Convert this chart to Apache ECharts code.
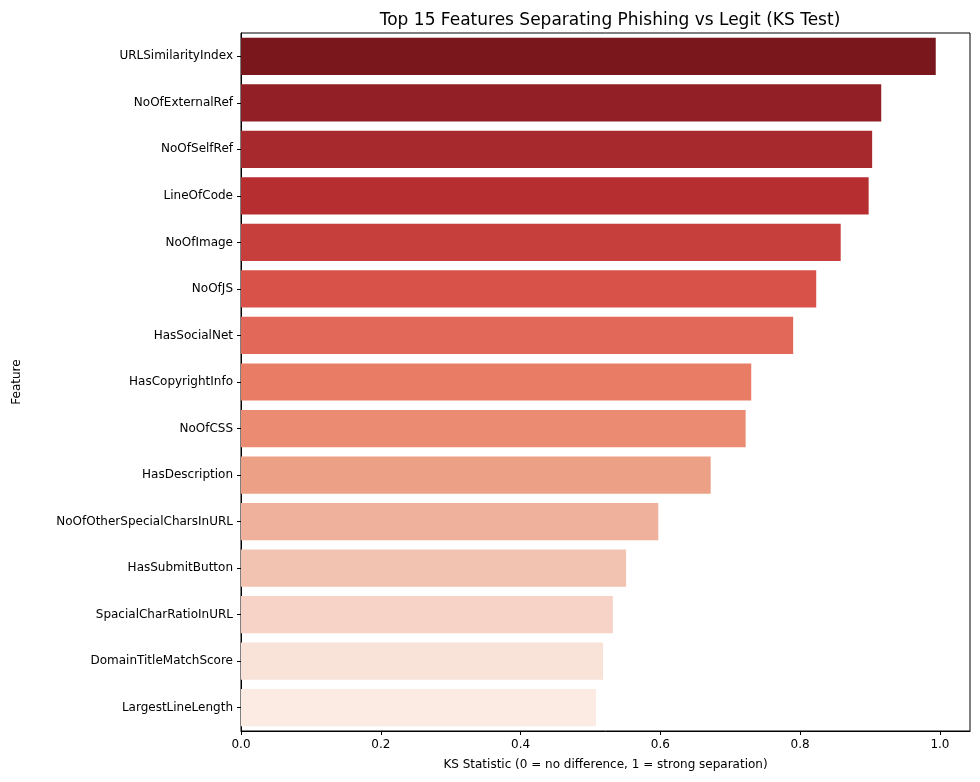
<!DOCTYPE html>
<html><head><meta charset="utf-8">
<script src="https://cdn.jsdelivr.net/npm/echarts@6/dist/echarts.min.js"></script>
<style>html,body{margin:0;padding:0;background:#fff}#c{width:980px;height:782px}</style>
</head><body><div id="c"></div>
<script>
const features = ["URLSimilarityIndex","NoOfExternalRef","NoOfSelfRef","LineOfCode","NoOfImage","NoOfJS","HasSocialNet","HasCopyrightInfo","NoOfCSS","HasDescription","NoOfOtherSpecialCharsInURL","HasSubmitButton","SpacialCharRatioInURL","DomainTitleMatchScore","LargestLineLength"];
const ksValues = [0.994,0.916,0.903,0.898,0.858,0.823,0.790,0.730,0.722,0.672,0.597,0.551,0.532,0.518,0.508];
const colors = ["#7a171d","#921f26","#a7282d","#b72e31","#c63f3c","#d8524a","#e2695a","#e87c65","#eb8c72","#eca086","#efb19b","#f2c3b0","#f6d3c6","#f9e2d8","#fbebe3"];
const xTicks = [0,0.2,0.4,0.6,0.8,1.0];
const chart = echarts.init(document.getElementById('c'));
const font = 'DejaVu Sans';
chart.setOption({
  animation:false,
  textStyle:{fontFamily:font},
  title:{text:'Top 15 Features Separating Phishing vs Legit (KS Test)',left:605,top:7,textAlign:'center',textStyle:{fontFamily:font,fontWeight:'normal',fontSize:17,color:'#000'}},
  grid:{left:241,right:10,top:33,bottom:51,show:true,borderColor:'#000',borderWidth:1,backgroundColor:'transparent'},
  xAxis:{type:'value',min:0,max:1.043,interval:0.2,
    name:'KS Statistic (0 = no difference, 1 = strong separation)',nameLocation:'middle',nameGap:28,
    nameTextStyle:{fontSize:12,color:'#000'},
    axisLine:{show:true,lineStyle:{color:'#000'}},axisTick:{show:true,length:4,lineStyle:{color:'#000'}},
    splitLine:{show:false},
    axisLabel:{color:'#000',fontSize:12,showMaxLabel:false,formatter:v=>xTicks.some(t=>Math.abs(t-v)<1e-6)?v.toFixed(1):''}},
  yAxis:{type:'category',inverse:true,data:features,name:'Feature',nameLocation:'middle',nameGap:218,
    nameTextStyle:{fontSize:12,color:'#000'},
    axisLine:{show:true,lineStyle:{color:'#000'}},axisTick:{show:true,length:4,alignWithLabel:true,lineStyle:{color:'#000'}},
    axisLabel:{color:'#000',fontSize:12}},
  series:[{type:'bar',barCategoryGap:'20%',data:ksValues.map((v,i)=>({value:v,itemStyle:{color:colors[i]}}))}]
});
</script></body></html>
